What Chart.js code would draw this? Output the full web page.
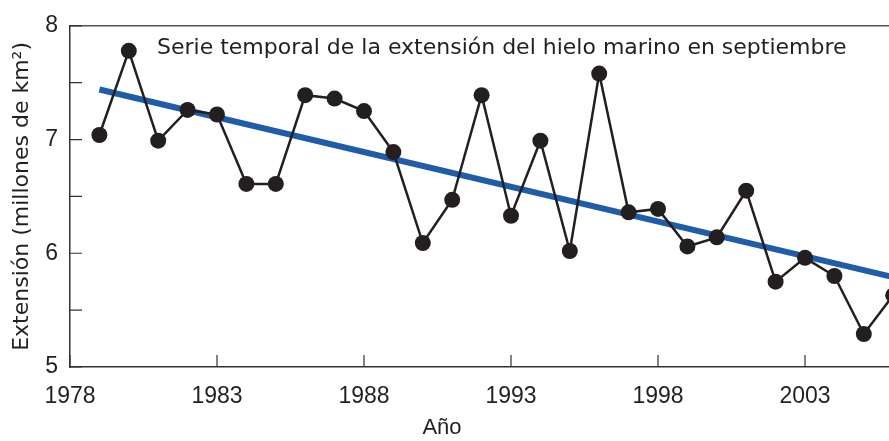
<!DOCTYPE html>
<html>
<head>
<meta charset="utf-8">
<script src="https://cdn.jsdelivr.net/npm/chart.js@4/dist/chart.umd.min.js"></script>
<style>
  html, body { margin: 0; padding: 0; background: #ffffff; overflow: hidden; }
  #outer { width: 889px; height: 441px; overflow: hidden; position: relative; }
  #wrap { width: 960px; height: 441px; position: absolute; left: 0; top: 0; }
  canvas { display: block; }
</style>
</head>
<body>
<div id="outer"><div id="wrap"><canvas id="c" width="960" height="441" style="width:960px;height:441px"></canvas></div></div>
<script>
// Data
const years = [1979, 1980, 1981, 1982, 1983, 1984, 1985, 1986, 1987, 1988, 1989, 1990, 1991, 1992, 1993, 1994, 1995, 1996, 1997, 1998, 1999, 2000, 2001, 2002, 2003, 2004, 2005, 2006];
const extent = [7.04, 7.78, 6.99, 7.26, 7.22, 6.61, 6.61, 7.39, 7.36, 7.25, 6.89, 6.09, 6.47, 7.39, 6.33, 6.99, 6.02, 7.58, 6.36, 6.39, 6.06, 6.14, 6.55, 5.75, 5.96, 5.80, 5.29, 5.63];
const trendYears = [1979, 2006];
const trendValues = [7.44, 5.79];
const xTickValues = [1978, 1983, 1988, 1993, 1998, 2003];
const yTickValues = [5, 5.5, 6, 6.5, 7, 7.5, 8];
const yLabelValues = [5, 6, 7, 8];

const chartTitle = 'Serie temporal de la extensión del hielo marino en septiembre';
const xTitle = 'Año';
const yTitle = 'Extensión (millones de km²)';

const FONT = '"Liberation Sans", Arial, Helvetica, sans-serif';
const TFONT = '"DejaVu Sans", "Liberation Sans", sans-serif';
const TEXT = '#231f20';

const seriesPoints = years.map((y, i) => ({ x: y, y: extent[i] }));
const trendPoints = trendYears.map((y, i) => ({ x: y, y: trendValues[i] }));

const decorPlugin = {
  id: 'decor',
  afterDraw(chart) {
    const ctx = chart.ctx;
    const a = chart.chartArea;
    const xs = chart.scales.x, ys = chart.scales.y;
    ctx.save();
    // top frame line
    ctx.strokeStyle = '#555555';
    ctx.lineWidth = 1.5;
    ctx.beginPath();
    ctx.moveTo(a.left, a.top);
    ctx.lineTo(a.right, a.top);
    ctx.stroke();
    // inward tick marks
    ctx.strokeStyle = '#333333';
    ctx.lineWidth = 1.2;
    ctx.beginPath();
    yTickValues.forEach(v => {
      const p = ys.getPixelForValue(v);
      ctx.moveTo(a.left, p);
      ctx.lineTo(a.left + 12, p);
    });
    xTickValues.forEach(v => {
      const p = xs.getPixelForValue(v);
      ctx.moveTo(p, a.bottom);
      ctx.lineTo(p, a.bottom - 12);
    });
    ctx.stroke();
    // in-plot title
    ctx.fillStyle = TEXT;
    ctx.font = '22px ' + TFONT;
    ctx.textBaseline = 'middle';
    ctx.textAlign = 'left';
    ctx.fillText(chartTitle, a.left + 87, a.top + 22);
    // x axis title
    ctx.font = '22px ' + FONT;
    ctx.textAlign = 'center';
    ctx.fillText(xTitle, 442, 428);
    ctx.restore();
  }
};

new Chart(document.getElementById('c'), {
  type: 'line',
  data: {
    datasets: [
      {
        label: 'Tendencia',
        data: trendPoints,
        borderColor: '#1f5ca9',
        borderWidth: 6,
        pointRadius: 0,
        fill: false,
        order: 2
      },
      {
        label: 'Extensión',
        data: seriesPoints,
        borderColor: '#231f20',
        borderWidth: 2.5,
        pointRadius: 8,
        pointBackgroundColor: '#231f20',
        pointBorderColor: '#231f20',
        pointBorderWidth: 0,
        fill: false,
        tension: 0,
        order: 1
      }
    ]
  },
  options: {
    responsive: false,
    maintainAspectRatio: false,
    animation: false,
    clip: false,
    layout: { padding: { left: 0, top: 20, right: 5, bottom: 0 } },
    plugins: {
      legend: { display: false },
      tooltip: { enabled: false },
      title: { display: false }
    },
    scales: {
      x: {
        type: 'linear',
        min: 1978,
        max: 2008,
        afterFit: s => { s.height = 74; s.paddingRight = 0; },
        afterBuildTicks: s => { s.ticks = xTickValues.map(v => ({ value: v })); },
        grid: { display: false, drawTicks: false },
        border: { display: true, color: '#333333', width: 1.5 },
        ticks: {
          color: TEXT,
          font: { family: FONT, size: 23 },
          padding: 16,
          maxRotation: 0,
          autoSkip: false,
          callback: v => String(v)
        }
      },
      y: {
        type: 'linear',
        min: 5,
        max: 8,
        afterFit: s => { s.width = 70; },
        afterBuildTicks: s => { s.ticks = yTickValues.map(v => ({ value: v })); },
        grid: { display: false, drawTicks: false },
        border: { display: true, color: '#333333', width: 1.5 },
        title: {
          display: true,
          text: yTitle,
          color: TEXT,
          font: { family: TFONT, size: 22 },
          padding: { top: 9, bottom: 0 }
        },
        ticks: {
          color: TEXT,
          font: { family: FONT, size: 23 },
          padding: 12,
          autoSkip: false,
          callback: v => (yLabelValues.includes(v) ? String(v) : '')
        }
      }
    }
  },
  plugins: [decorPlugin]
});
</script>
</body>
</html>
